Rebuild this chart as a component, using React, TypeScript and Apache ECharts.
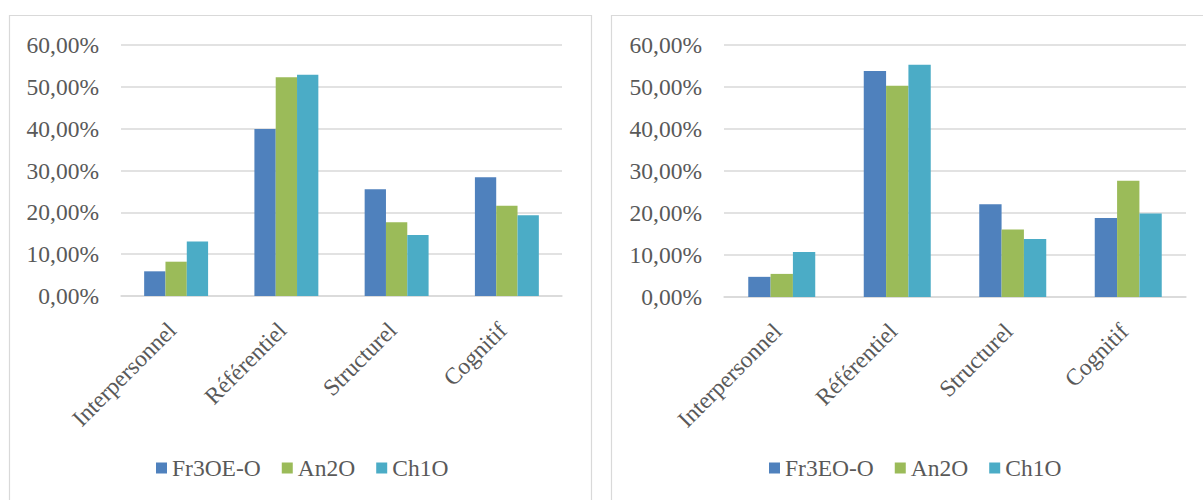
import React, { useEffect, useRef } from "react";
import * as echarts from "echarts";

const categories = ["Interpersonnel", "Référentiel", "Structurel", "Cognitif"];

const leftSeriesNames = ["Fr3OE-O", "An2O", "Ch1O"];
const leftFr3OE = [5.9, 39.9, 25.5, 28.4];
const leftAn2O = [8.2, 52.3, 17.6, 21.6];
const leftCh1O = [13.0, 52.9, 14.6, 19.3];

const rightSeriesNames = ["Fr3EO-O", "An2O", "Ch1O"];
const rightFr3EO = [4.8, 53.8, 22.1, 18.8];
const rightAn2O = [5.5, 50.3, 16.1, 27.7];
const rightCh1O = [10.7, 55.3, 13.8, 19.9];

const colors = ["#4F81BD", "#9BBB59", "#4BACC6"];
const FONT = "'Liberation Serif', 'Times New Roman', serif";
const TEXT = "#595959";
const FS = 23.5;

export default function App() {
  const ref = useRef<HTMLDivElement>(null);
  useEffect(() => {
    if (!ref.current) return;
    const chart = echarts.init(ref.current, null, { renderer: "svg" });
    const yAxisCommon = {
      type: "value",
      min: 0,
      max: 60,
      interval: 10,
      axisLine: { show: false },
      axisTick: { show: false },
      axisLabel: {
        color: TEXT,
        fontFamily: FONT,
        fontSize: FS,
        margin: 22,
        formatter: (v: number) => v.toFixed(2).replace(".", ",") + "%",
      },
      splitLine: { lineStyle: { color: "#D9D9D9", width: 1.5 } },
    };
    const xAxisCommon = {
      type: "category",
      data: categories,
      axisLine: { show: true, lineStyle: { color: "#D9D9D9", width: 1.5 } },
      axisTick: { show: false },
      axisLabel: {
        color: TEXT,
        fontFamily: FONT,
        fontSize: FS,
        rotate: 45,
        margin: 26,
        padding: [0, 6, 0, 0],
        interval: 0,
      },
    };
    const mk = (name: string, data: number[], idx: number, color: string) => ({
      type: "bar",
      name,
      data,
      xAxisIndex: idx,
      yAxisIndex: idx,
      barGap: "0%",
      barCategoryGap: "42%",
      itemStyle: { color },
    });
    const legendCommon = {
      itemWidth: 11,
      itemHeight: 11,
      itemGap: 21,
      padding: 0,
      icon: "rect",
      textStyle: { color: TEXT, fontFamily: FONT, fontSize: FS },
    };
    chart.setOption({
      animation: false,
      backgroundColor: "#ffffff",
      grid: [
        { left: 121, top: 45, width: 441, height: 251 },
        { left: 724, top: 45, width: 462, height: 252 },
      ],
      xAxis: [
        { ...xAxisCommon, gridIndex: 0 },
        { ...xAxisCommon, gridIndex: 1 },
      ],
      yAxis: [
        { ...yAxisCommon, gridIndex: 0 },
        { ...yAxisCommon, gridIndex: 1 },
      ],
      legend: [
        { ...legendCommon, data: leftSeriesNames, left: 156, top: 456 },
        { ...legendCommon, data: rightSeriesNames, left: 769, top: 456 },
      ],
      series: [
        mk(leftSeriesNames[0], leftFr3OE, 0, colors[0]),
        mk(leftSeriesNames[1], leftAn2O, 0, colors[1]),
        mk(leftSeriesNames[2], leftCh1O, 0, colors[2]),
        mk(rightSeriesNames[0], rightFr3EO, 1, colors[0]),
        mk(rightSeriesNames[1], rightAn2O, 1, colors[1]),
        mk(rightSeriesNames[2], rightCh1O, 1, colors[2]),
      ],
      graphic: [
        {
          type: "rect",
          silent: true,
          shape: { x: 9.5, y: 15.5, width: 582, height: 500 },
          style: { fill: "none", stroke: "#D9D9D9", lineWidth: 1.2 },
        },
        {
          type: "rect",
          silent: true,
          shape: { x: 611.5, y: 15.5, width: 620, height: 500 },
          style: { fill: "none", stroke: "#D9D9D9", lineWidth: 1.2 },
        },
      ],
    });
    return () => chart.dispose();
  }, []);
  return (
    <div
      ref={ref}
      style={{ position: "fixed", left: 0, top: 0, width: 1203, height: 500 }}
    />
  );
}
